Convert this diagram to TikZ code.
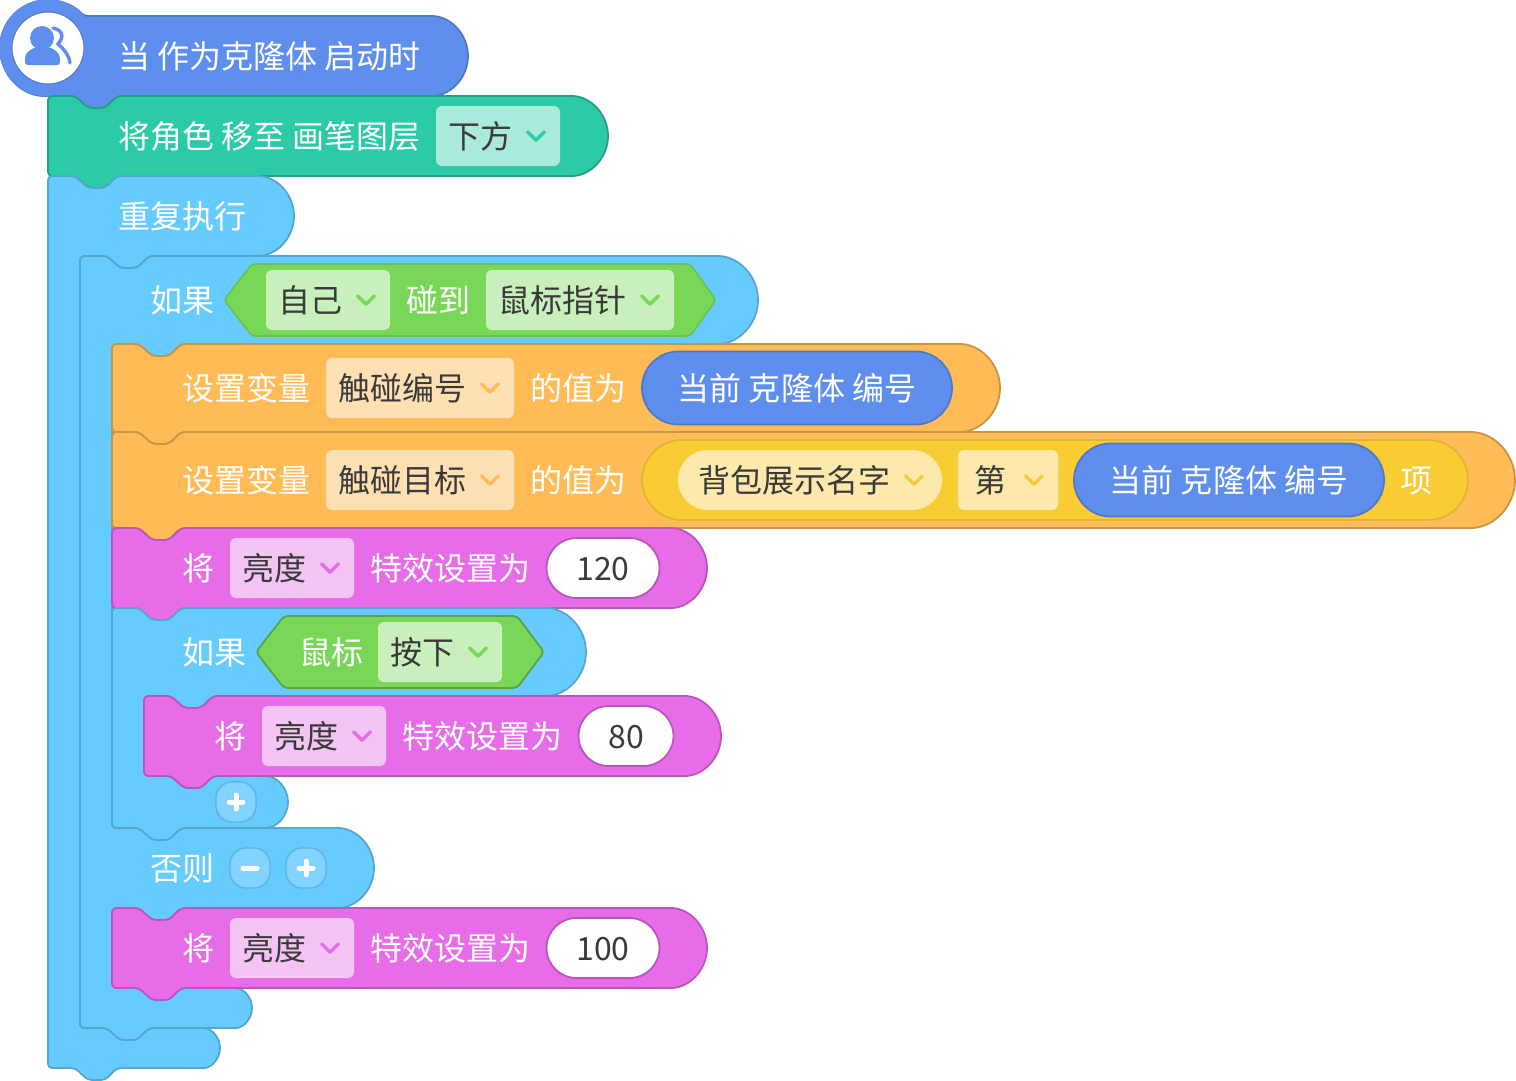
\documentclass[tikz,border=0pt]{standalone}
\usepackage{fontspec}
\setmainfont{Noto Sans CJK SC}
\usetikzlibrary{positioning, shapes.misc}
\definecolor{hatblue}{HTML}{5E8FEE}
\definecolor{hatline}{HTML}{4F78C8}
\definecolor{penteal}{HTML}{2BCBA8}
\definecolor{penline}{HTML}{239F85}
\definecolor{penpale}{HTML}{AAEADC}
\definecolor{loopblue}{HTML}{66CCFF}
\definecolor{loopline}{HTML}{55A5CE}
\definecolor{btnblue}{HTML}{82D3FF}
\definecolor{btnline}{HTML}{5FB3DD}
\definecolor{varorange}{HTML}{FFBB55}
\definecolor{varline}{HTML}{C99443}
\definecolor{varpale}{HTML}{FFE0B3}
\definecolor{fxpink}{HTML}{E76CE8}
\definecolor{fxline}{HTML}{B956BA}
\definecolor{fxpale}{HTML}{F4C4F5}
\definecolor{sensegreen}{HTML}{78D757}
\definecolor{senseline}{HTML}{6CC251}
\definecolor{sensedark}{HTML}{5DA144}
\definecolor{sensepale}{HTML}{C9F0BC}
\definecolor{listyellow}{HTML}{F9CC33}
\definecolor{listline}{HTML}{DDB53A}
\definecolor{listpale}{HTML}{FDE9AB}
\definecolor{inktext}{HTML}{3A3A3A}
% block notch, left to right along a top edge and back along a bottom edge
\newcommand{\notchgo}[2]{-- (#1+27,#2) -- (#1+40,#2+12) -- (#1+57,#2+12) -- (#1+69,#2)}
\newcommand{\notchback}[2]{-- (#1+69,#2) -- (#1+57,#2+12) -- (#1+40,#2+12) -- (#1+27,#2)}
% stack block: style, left, top, right, bottom, half height
\newcommand{\stackblock}[6]{\draw[#1] (#2,#3) \notchgo{#2}{#3} -- (#4-#6,#3)
  arc[start angle=90, end angle=-90, radius=#6pt] \notchback{#2}{#5} -- (#2,#5) -- cycle;}
\newcommand{\chevron}[3][24]{\draw[chevline, draw=#3] ([shift={(-#1-8.5,-4.2)}]#2.east) -- ++(8.5,8.5) -- ++(8.5,-8.5);}
\begin{document}
\begin{tikzpicture}[x=1pt, y=-1pt, node distance=16pt,
  block/.style={line width=1.8pt, rounded corners=4pt, line join=round},
  hatblock/.style={block, fill=hatblue, draw=hatline},
  penblock/.style={block, fill=penteal, draw=penline},
  loopblock/.style={block, fill=loopblue, draw=loopline},
  varblock/.style={block, fill=varorange, draw=varline},
  fxblock/.style={block, fill=fxpink, draw=fxline},
  sensehex/.style={line width=1.8pt, rounded corners=4pt, fill=sensegreen, draw=senseline},
  word/.style={inner sep=0pt, outer sep=0pt, text height=24pt, text depth=0pt, font=\fontsize{32}{32}\selectfont},
  lbl/.style={word, text=white},
  pad/.style 2 args={execute at begin node=\hspace*{#1pt}, execute at end node=\hspace*{#2pt}},
  field/.style={word, text=inktext, rounded corners=6pt, minimum height=60pt},
  drop/.style={field, pad={12}{48}},
  menu/.style={field, rounded corners=29.9pt, pad={20}{52}},
  pill/.style={word, rounded rectangle, line width=1.8pt},
  reporter/.style={pill, text=white, fill=hatblue, draw=hatline, minimum height=73pt, minimum width=310pt},
  numfield/.style={pill, text=inktext, fill=white, draw=fxline, minimum height=60pt},
  btn/.style={minimum size=40pt, inner sep=0pt, rounded corners=16pt, fill=btnblue, draw=btnline, line width=1.4pt},
  btnsign/.style={draw=white, line width=5pt, line cap=round},
  chevline/.style={line width=3.4pt, line cap=round, line join=round}]
  \useasboundingbox (0,0) rectangle (1516,1080);

  % hat
  \draw[hatblock] (48,96) arc[start angle=-90, end angle=-318.2, radius=48pt]
    -- (428,16) arc[start angle=90, end angle=-90, radius=40pt]
    \notchback{48}{96} -- cycle;
  \fill[hatblue] (48,48) circle (48.6pt);
  \node[circle, minimum size=72pt, inner sep=0pt, fill=white, draw=hatline, line width=1pt] (face) at (48,48) {};
  \fill[hatblue] (42,38) circle (12pt);
  \fill[hatblue, rounded corners=3pt] (25,65) -- (25,59) .. controls (26,52) and (32,49) .. (36,47)
    -- (48,47) .. controls (54,49) and (59,53) .. (60,59) -- (60,65) -- cycle;
  \draw[hatblue, line width=3.4pt, line cap=round] (53,28) .. controls (62,30) and (65,36) .. (58,44)
    .. controls (64,49) and (69,55) .. (70,63);
  \node[lbl, anchor=west] (hattext) at (118,56) {当 作为克隆体 启动时};

  % layer block
  \stackblock{penblock}{48}{96}{608}{176}{40}
  \node[lbl, anchor=west] (layertext) at (118,136) {将角色 移至 画笔图层};
  \node[drop, fill=penpale, anchor=west] (layerdrop) at (436,136) {下方};
  \chevron{layerdrop}{penteal}

  % forever
  \draw[loopblock] (48,176) \notchgo{48}{176} -- (254,176)
    arc[start angle=90, end angle=-90, radius=40pt]
    \notchback{80}{256} -- (80,256) -- (80,1028) \notchgo{80}{1028} -- (200,1028)
    arc[start angle=90, end angle=-90, radius=20pt]
    \notchback{48}{1068} -- (48,1068) -- cycle;
  \node[lbl, anchor=west] (forevertext) at (118,216) {重复执行};

  % if else
  \draw[loopblock] (80,256) \notchgo{80}{256} -- (714,256)
    arc[start angle=90, end angle=-90, radius=44pt]
    \notchback{112}{344} -- (112,344) -- (112,828) -- (334,828)
    arc[start angle=90, end angle=-90, radius=40pt]
    \notchback{112}{908} -- (112,908) -- (112,988) \notchgo{112}{988} -- (232,988)
    arc[start angle=90, end angle=-90, radius=20pt]
    \notchback{80}{1028} -- (80,1028) -- cycle;
  \node[lbl, anchor=west] (iftext) at (150,300) {如果};
  \draw[sensehex] (224,300) -- (252,264) -- (690,264) -- (716,300) -- (690,336) -- (252,336) -- cycle;
  \node[drop, fill=sensepale, anchor=west] (selfdrop) at (266,300) {自己};
  \chevron{selfdrop}{sensegreen}
  \node[lbl, right=16pt of selfdrop] (touchtext) {碰到};
  \node[drop, fill=sensepale, right=16pt of touchtext] (pointerdrop) {鼠标指针};
  \chevron{pointerdrop}{sensegreen}

  % first variable
  \stackblock{varblock}{112}{344}{1000}{432}{44}
  \node[lbl, anchor=west] (settexta) at (182,388) {设置变量};
  \node[drop, fill=varpale, anchor=west] (vardropa) at (326,388) {触碰编号};
  \chevron{vardropa}{varorange}
  \node[lbl, right=16pt of vardropa] (valuetexta) {的值为};
  \node[reporter, right=16pt of valuetexta] (clonea) {当前 克隆体 编号};

  % second variable
  \stackblock{varblock}{112}{432}{1515}{528}{48}
  \node[lbl, anchor=west] (settextb) at (182,480) {设置变量};
  \node[drop, fill=varpale, anchor=west] (vardropb) at (326,480) {触碰目标};
  \chevron{vardropb}{varorange}
  \node[lbl, right=16pt of vardropb] (valuetextb) {的值为};
  \node[pill, fill=listyellow, draw=listline, minimum height=80pt, minimum width=826pt, right=16pt of valuetextb] (itemof) {};
  \node[menu, fill=listpale, anchor=west] (listmenu) at (678,480) {背包展示名字};
  \chevron[28]{listmenu}{listyellow}
  \node[field, pad={16}{52}, fill=listpale, right=16pt of listmenu] (indexdrop) {第};
  \chevron{indexdrop}{listyellow}
  \node[reporter, right=16pt of indexdrop] (cloneb) {当前 克隆体 编号};
  \node[lbl, right=16pt of cloneb] (itemtext) {项};

  % effect 120
  \stackblock{fxblock}{112}{528}{707}{608}{40}
  \node[lbl, anchor=west] (fxtexta) at (182,568) {将};
  \node[drop, fill=fxpale, anchor=west] (fxdropa) at (230,568) {亮度};
  \chevron{fxdropa}{fxpink}
  \node[lbl, right=16pt of fxdropa] (fxseta) {特效设置为};
  \node[numfield, right=16.5pt of fxseta, minimum width=113pt] (fxvala) {120};

  % inner if
  \draw[loopblock] (112,608) \notchgo{112}{608} -- (542,608)
    arc[start angle=90, end angle=-90, radius=44pt]
    \notchback{144}{696} -- (144,696) -- (144,776) \notchgo{144}{776} -- (262,776)
    arc[start angle=90, end angle=-90, radius=26pt]
    \notchback{112}{828} -- (112,828) -- cycle;
  \node[lbl, anchor=west] (mousetexta) at (182,652) {如果};
  \draw[sensehex, draw=sensedark] (256,652) -- (284,616) -- (517,616) -- (544,652) -- (517,688) -- (284,688) -- cycle;
  \node[lbl, anchor=west] (mousetext) at (299,652) {鼠标};
  \node[drop, fill=sensepale, anchor=west] (pressdrop) at (378,652) {按下};
  \chevron{pressdrop}{sensegreen}

  % effect 80
  \stackblock{fxblock}{144}{696}{721}{776}{40}
  \node[lbl, anchor=west] (fxtextb) at (214,736) {将};
  \node[drop, fill=fxpale, anchor=west] (fxdropb) at (262,736) {亮度};
  \chevron{fxdropb}{fxpink}
  \node[lbl, right=16pt of fxdropb] (fxsetb) {特效设置为};
  \node[numfield, right=16.5pt of fxsetb, minimum width=95pt] (fxvalb) {80};

  \node[btn] (addif) at (236,802) {};
  \draw[btnsign] ([xshift=-7pt]addif.center) -- ([xshift=7pt]addif.center);
  \draw[btnsign] ([yshift=-7pt]addif.center) -- ([yshift=7pt]addif.center);

  % else arm
  \node[lbl, anchor=west] (elsetext) at (150,868) {否则};
  \node[btn] (dropelse) at (250,868) {};
  \draw[btnsign] ([xshift=-7pt]dropelse.center) -- ([xshift=7pt]dropelse.center);
  \node[btn] (addelse) at (306,868) {};
  \draw[btnsign] ([xshift=-7pt]addelse.center) -- ([xshift=7pt]addelse.center);
  \draw[btnsign] ([yshift=-7pt]addelse.center) -- ([yshift=7pt]addelse.center);

  % effect 100
  \stackblock{fxblock}{112}{908}{707}{988}{40}
  \node[lbl, anchor=west] (fxtextc) at (182,948) {将};
  \node[drop, fill=fxpale, anchor=west] (fxdropc) at (230,948) {亮度};
  \chevron{fxdropc}{fxpink}
  \node[lbl, right=16pt of fxdropc] (fxsetc) {特效设置为};
  \node[numfield, right=16.5pt of fxsetc, minimum width=113pt] (fxvalc) {100};
\end{tikzpicture}
\end{document}
